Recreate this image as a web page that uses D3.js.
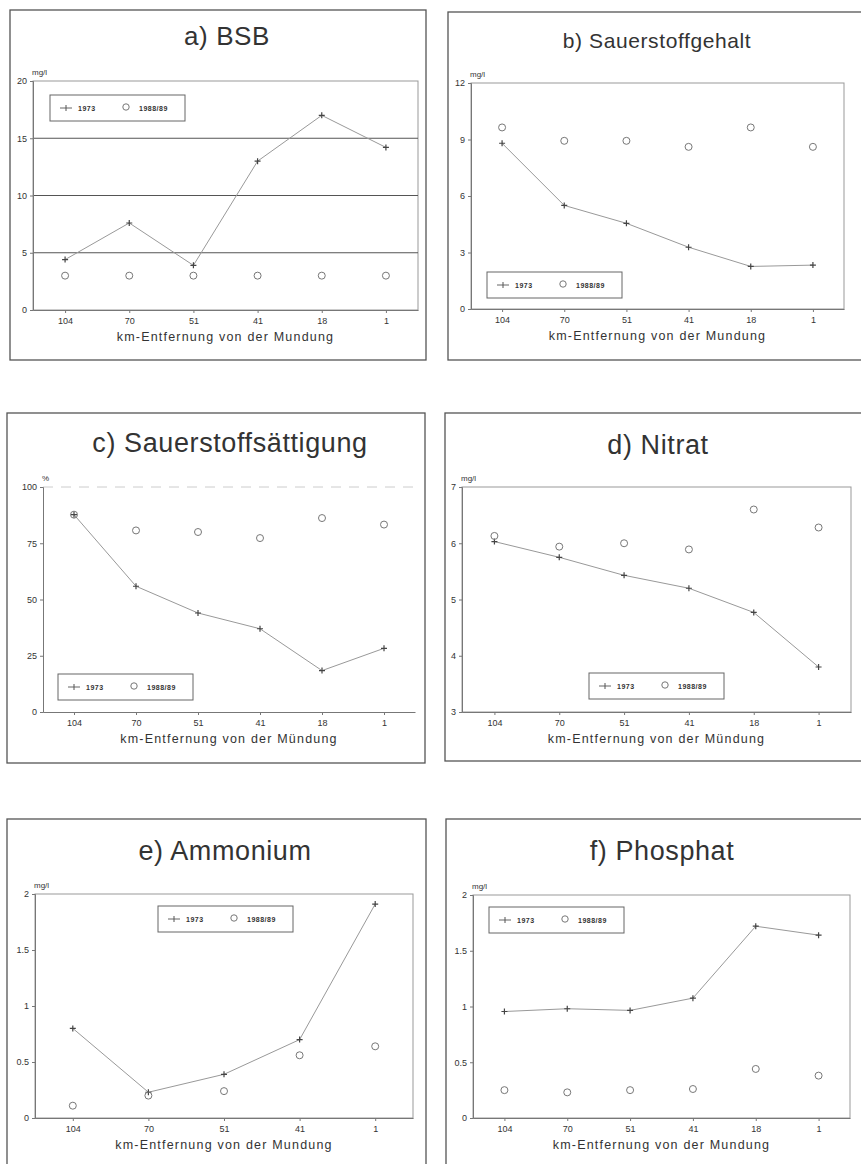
<!DOCTYPE html>
<html>
<head>
<meta charset="utf-8">
<script src="https://cdn.jsdelivr.net/npm/d3@7"></script>
<style>
  body { margin: 0; background: #fff; }
  text { font-family: "Liberation Sans", Arial, sans-serif; fill: #333; }
</style>
</head>
<body>
<script>
// km markers along the river
var kmAll = ["104", "70", "51", "41", "18", "1"];
var kmNH4 = ["104", "70", "51", "41", "1"];

// a) BSB
var bsb1973 = [4.4, 7.6, 3.9, 13.0, 17.0, 14.2];
var bsb1988 = [3.0, 3.0, 3.0, 3.0, 3.0, 3.0];
// b) Sauerstoffgehalt
var o2_1973 = [8.8, 5.5, 4.55, 3.28, 2.26, 2.33];
var o2_1988 = [9.64, 8.93, 8.93, 8.61, 9.64, 8.61];
// c) Sauerstoffsättigung
var sat1973 = [87.7, 55.9, 44.0, 37.0, 18.4, 28.3];
var sat1988 = [87.7, 80.7, 80.0, 77.3, 86.2, 83.3];
// d) Nitrat
var no3_1973 = [6.03, 5.75, 5.43, 5.20, 4.77, 3.80];
var no3_1988 = [6.13, 5.94, 6.0, 5.89, 6.60, 6.28];
// e) Ammonium
var nh4_1973 = [0.80, 0.23, 0.39, 0.70, 1.91];
var nh4_1988 = [0.11, 0.20, 0.24, 0.56, 0.64];
// f) Phosphat
var po4_1973 = [0.955, 0.98, 0.965, 1.075, 1.72, 1.64];
var po4_1988 = [0.25, 0.23, 0.25, 0.26, 0.44, 0.38];

var yTicks0_20 = [0, 5, 10, 15, 20];
var yTicks0_12 = [0, 3, 6, 9, 12];
var yTicks0_100 = [0, 25, 50, 75, 100];
var yTicks3_7 = [3, 4, 5, 6, 7];
var yTicks0_2 = [0, 0.5, 1, 1.5, 2];

var xTitle = "km-Entfernung von der Mundung";
var xTitleU = "km-Entfernung von der Mündung";

// panel layout (positions only)
var panels = [
  {title: "a) BSB", tsize: 26, tx: 227, ty: 45, box: [10, 10, 426, 360],
   plot: [33, 81, 418, 310], km: kmAll, s1: bsb1973, s2: bsb1988,
   ticks: yTicks0_20, unit: "mg/l", grid: [5, 10, 15], legend: [50, 95], xt: xTitle},
  {title: "b) Sauerstoffgehalt", tsize: 21, tx: 657, ty: 48, box: [448, 12, 900, 360],
   plot: [471, 83, 844, 309], km: kmAll, s1: o2_1973, s2: o2_1988,
   ticks: yTicks0_12, unit: "mg/l", legend: [487, 272], xt: xTitle},
  {title: "c) Sauerstoffsättigung", tsize: 27, tx: 230, ty: 452, box: [7, 413, 425, 763],
   plot: [43, 487, 415, 712], km: kmAll, s1: sat1973, s2: sat1988,
   ticks: yTicks0_100, unit: "%", open: true, legend: [58, 674], xt: xTitleU},
  {title: "d) Nitrat", tsize: 27, tx: 658, ty: 454, box: [445, 413, 900, 761],
   plot: [462, 487, 851, 712], km: kmAll, s1: no3_1973, s2: no3_1988,
   ticks: yTicks3_7, unit: "mg/l", legend: [589, 673], xt: xTitleU},
  {title: "e) Ammonium", tsize: 27, tx: 225, ty: 860, box: [7, 819, 426, 1200],
   plot: [35, 894, 413, 1118], km: kmNH4, s1: nh4_1973, s2: nh4_1988,
   ticks: yTicks0_2, unit: "mg/l", legend: [158, 906], xt: xTitle},
  {title: "f) Phosphat", tsize: 27, tx: 662, ty: 860, box: [446, 819, 900, 1200],
   plot: [473, 895, 850, 1118], km: kmAll, s1: po4_1973, s2: po4_1988,
   ticks: yTicks0_2, unit: "mg/l", legend: [489, 907], xt: xTitle}
];

var svg = d3.select("body").append("svg")
  .attr("width", 861).attr("height", 1164);

var fmt = function(d) { return String(d); };

panels.forEach(function(p) {
  var g = svg.append("g");
  var L = p.plot[0], T = p.plot[1], R = p.plot[2], B = p.plot[3];

  // outer box
  g.append("rect")
    .attr("x", p.box[0]).attr("y", p.box[1])
    .attr("width", p.box[2] - p.box[0]).attr("height", p.box[3] - p.box[1])
    .attr("fill", "none").attr("stroke", "#555").attr("stroke-width", 1.3);

  g.append("text")
    .attr("x", p.tx).attr("y", p.ty)
    .attr("text-anchor", "middle")
    .style("font-size", p.tsize + "px")
    .style("letter-spacing", "0.6px")
    .text(p.title);

  var x = d3.scalePoint().domain(p.km).range([L, R]).padding(0.5);
  var y = d3.scaleLinear().domain([p.ticks[0], p.ticks[p.ticks.length - 1]]).range([B, T]);

  // plot frame
  if (p.open) {
    g.append("line").attr("x1", L).attr("x2", R).attr("y1", T).attr("y2", T)
      .attr("stroke", "#ccc").attr("stroke-dasharray", "10,8");
  } else {
    g.append("rect").attr("x", L).attr("y", T).attr("width", R - L).attr("height", B - T)
      .attr("fill", "none").attr("stroke", "#999");
  }

  if (p.grid) {
    g.selectAll(".grid").data(p.grid).enter().append("line")
      .attr("x1", L).attr("x2", R)
      .attr("y1", function(d) { return y(d); })
      .attr("y2", function(d) { return y(d); })
      .attr("stroke", "#555").attr("stroke-width", 1.2);
  }

  // axes
  var ya = g.append("g").attr("transform", "translate(" + L + ",0)")
    .call(d3.axisLeft(y).tickValues(p.ticks).tickSize(3).tickFormat(fmt));
  var xa = g.append("g").attr("transform", "translate(0," + B + ")")
    .call(d3.axisBottom(x).tickSize(3).tickSizeOuter(0));
  [ya, xa].forEach(function(a) {
    a.select(".domain").attr("stroke", "#777");
    a.selectAll(".tick line").attr("stroke", "#777");
    a.selectAll("text").style("font-size", "9px").attr("fill", "#333");
  });
  ya.selectAll("text").attr("x", -6);
  xa.selectAll("text").attr("y", 8);

  g.append("text").attr("x", L - 1).attr("y", T - 6)
    .style("font-size", "8px").text(p.unit);

  g.append("text")
    .attr("x", (L + R) / 2).attr("y", B + 31)
    .attr("text-anchor", "middle")
    .style("font-size", "12.5px").style("letter-spacing", "1.2px")
    .text(p.xt);

  // 1973 line
  var line = d3.line()
    .x(function(d, i) { return x(p.km[i]); })
    .y(function(d) { return y(d); });
  g.append("path").datum(p.s1)
    .attr("d", line).attr("fill", "none")
    .attr("stroke", "#999").attr("stroke-width", 1);

  g.selectAll(".plus").data(p.s1).enter().append("path")
    .attr("d", function(d, i) {
      var cx = x(p.km[i]), cy = y(d);
      return "M" + (cx - 3) + "," + cy + "H" + (cx + 3) + "M" + cx + "," + (cy - 3) + "V" + (cy + 3);
    })
    .attr("stroke", "#444").attr("stroke-width", 1.2);

  // 1988/89 circles
  g.selectAll(".circ").data(p.s2).enter().append("circle")
    .attr("cx", function(d, i) { return x(p.km[i]); })
    .attr("cy", function(d) { return y(d); })
    .attr("r", 3.5)
    .attr("fill", "none").attr("stroke", "#777").attr("stroke-width", 1);

  // legend
  var lg = g.append("g").attr("transform", "translate(" + p.legend[0] + "," + p.legend[1] + ")");
  lg.append("rect").attr("width", 135).attr("height", 26)
    .attr("fill", "#fff").attr("stroke", "#666");
  lg.append("line").attr("x1", 10).attr("x2", 22).attr("y1", 13).attr("y2", 13)
    .attr("stroke", "#666");
  lg.append("path").attr("d", "M16,10V16").attr("stroke", "#555");
  lg.append("text").attr("x", 28).attr("y", 16)
    .style("font-size", "7px").style("font-weight", "bold").style("letter-spacing", "0.5px").text("1973");
  lg.append("circle").attr("cx", 76).attr("cy", 12).attr("r", 3.2)
    .attr("fill", "none").attr("stroke", "#777");
  lg.append("text").attr("x", 89).attr("y", 16)
    .style("font-size", "7px").style("font-weight", "bold").style("letter-spacing", "0.5px").text("1988/89");
});
</script>
</body>
</html>
